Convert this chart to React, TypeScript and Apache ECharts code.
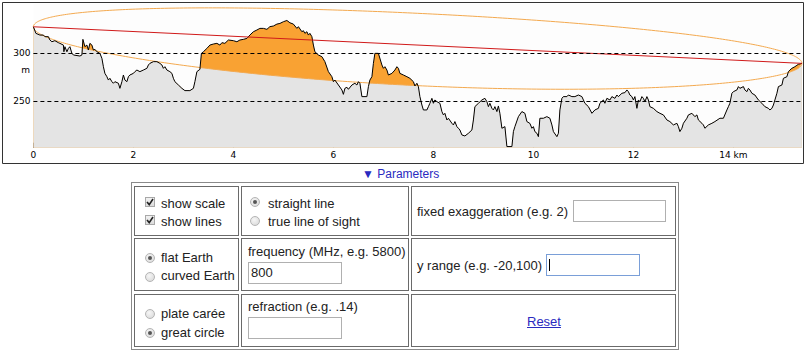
import React, { useEffect, useRef } from 'react';
import * as echarts from 'echarts';

// Terrain profile: [distance km, elevation m]
const PROFILE: [number, number][] = [
  [0, 327.9], [0.05, 321], [0.13, 319.2], [0.2, 319.2], [0.23, 317.5], [0.3, 317.5], [0.33, 314], [0.37, 312.2],
  [0.43, 313.3], [0.5, 311.2], [0.53, 310.5], [0.6, 308.7], [0.61, 301.7], [0.63, 307], [0.67, 301.7], [0.7, 305.2],
  [0.73, 307], [0.77, 300], [0.8, 298.3], [0.93, 297.2], [0.97, 298.3], [0.99, 314.7], [1.03, 307], [1.07, 308.7],
  [1.1, 303.5], [1.13, 310.5], [1.17, 308.7], [1.2, 303.5], [1.23, 304.2], [1.27, 301.7], [1.33, 300], [1.37, 294.8],
  [1.4, 286], [1.43, 279], [1.47, 275.5], [1.5, 272], [1.53, 273.8], [1.57, 270.3], [1.6, 268.6], [1.63, 270.3],
  [1.7, 268.6], [1.73, 263.3], [1.77, 270.3], [1.8, 277.3], [1.83, 272], [1.87, 270.3], [1.9, 275.5], [1.93, 277.3],
  [2.0, 279], [2.03, 280.8], [2.07, 282.5], [2.13, 280.8], [2.2, 282.5], [2.27, 284.3], [2.3, 287.8], [2.33, 289.5],
  [2.4, 291.3], [2.47, 291.3], [2.53, 289.5], [2.57, 287.8], [2.6, 284.3], [2.63, 286], [2.67, 282.5], [2.73, 280.8],
  [2.77, 279], [2.8, 273.8], [2.83, 270.3], [2.9, 266.8], [2.97, 263.3], [3.03, 260.9], [3.13, 260.9], [3.2, 263.3],
  [3.23, 270.3], [3.27, 280.8], [3.33, 283.2], [3.36, 300], [3.4, 301.7], [3.47, 305.2], [3.53, 308.7], [3.6, 309.8],
  [3.67, 310.5], [3.73, 308.7], [3.77, 311.2], [3.83, 310.5], [3.9, 314], [4.0, 313.3], [4.07, 312.2], [4.13, 314],
  [4.2, 314.7], [4.27, 315.7], [4.33, 319.2], [4.4, 322.7], [4.47, 324.5], [4.53, 326.2], [4.6, 326.2], [4.67, 325.2],
  [4.73, 328], [4.8, 328.7], [4.87, 330.7], [4.93, 331.4], [5.0, 333.2], [5.07, 334.5], [5.13, 332.1], [5.2, 330.7],
  [5.27, 326.2], [5.3, 328], [5.37, 322.7], [5.4, 323.8], [5.43, 321], [5.47, 322.7], [5.5, 319.2], [5.53, 321],
  [5.57, 317.5], [5.6, 308.7], [5.63, 301.7], [5.7, 298.3], [5.77, 296.5], [5.83, 291.3], [5.9, 280.8], [5.97, 275.5],
  [6.0, 270.3], [6.03, 272], [6.1, 266.8], [6.17, 261.6], [6.2, 257], [6.23, 263.3], [6.27, 264.4], [6.3, 262.3],
  [6.37, 266.8], [6.43, 268.6], [6.47, 266.8], [6.5, 270.3], [6.53, 268.6], [6.57, 254.6], [6.67, 254.6], [6.7, 265.1],
  [6.73, 272], [6.77, 275.5], [6.8, 289.5], [6.83, 300], [6.9, 300], [6.97, 287.8], [7.0, 284.3], [7.03, 286],
  [7.07, 282.5], [7.1, 277.3], [7.17, 279], [7.23, 282.5], [7.27, 286], [7.3, 284.3], [7.33, 279], [7.4, 277.3],
  [7.47, 275.5], [7.53, 273.8], [7.6, 270.3], [7.63, 265.8], [7.67, 268.6], [7.7, 265.1], [7.73, 254.6], [7.77, 245.8],
  [7.8, 240.6], [7.87, 240.6], [7.9, 244.1], [7.93, 247.6], [7.97, 252.8], [8.0, 247.6], [8.03, 251.1], [8.07, 249.3],
  [8.13, 247.6], [8.17, 238.9], [8.2, 235.4], [8.23, 237.1], [8.27, 230.1], [8.3, 231.9], [8.37, 226.6], [8.4, 224.9],
  [8.43, 228.4], [8.47, 223.1], [8.5, 221.4], [8.53, 219.6], [8.57, 214.4], [8.63, 213.3], [8.7, 216.1], [8.77, 219.6],
  [8.8, 230.1], [8.83, 244.1], [8.9, 247.6], [8.97, 251.1], [9.03, 252.8], [9.07, 249.3], [9.1, 244.1], [9.13, 247.6],
  [9.17, 242.3], [9.2, 240.6], [9.23, 244.1], [9.27, 238.9], [9.3, 244.8], [9.33, 237.1], [9.37, 221.4], [9.43, 223.1],
  [9.47, 202.2], [9.57, 202.2], [9.6, 217.9], [9.63, 223.1], [9.7, 233.6], [9.77, 238.9], [9.83, 237.1], [9.87, 228.4],
  [9.93, 226.5], [9.97, 221.4], [10.0, 223.1], [10.03, 217.9], [10.07, 216.1], [10.1, 212.6], [10.13, 231.9], [10.2, 231.9],
  [10.27, 233.6], [10.33, 231.9], [10.37, 224.9], [10.4, 217.9], [10.47, 212.6], [10.5, 216.1], [10.53, 240.6], [10.57, 252.8],
  [10.6, 254.6], [10.67, 254.6], [10.7, 256.3], [10.77, 254.6], [10.83, 254.6], [10.9, 256.3], [10.97, 254.6], [11.0, 251.1],
  [11.03, 247.6], [11.1, 244.1], [11.17, 237.1], [11.23, 240.6], [11.3, 242.3], [11.33, 247.6], [11.4, 251.1], [11.43, 247.6],
  [11.47, 252.8], [11.53, 251.1], [11.57, 254.6], [11.63, 252.8], [11.67, 256.3], [11.7, 254.6], [11.77, 258.1], [11.83, 258.8],
  [11.87, 261.6], [11.9, 259.8], [11.93, 256.3], [11.97, 254.6], [12.0, 251.1], [12.03, 254.6], [12.07, 242.3], [12.1, 251.1],
  [12.13, 249.3], [12.17, 254.6], [12.2, 252.8], [12.23, 249.3], [12.27, 254.6], [12.3, 251.1], [12.33, 244.1], [12.4, 242.3],
  [12.47, 238.9], [12.53, 237.1], [12.6, 235.4], [12.67, 230.1], [12.73, 228.4], [12.8, 224.9], [12.87, 226.6], [12.9, 223.1],
  [12.93, 217.9], [12.97, 221.4], [13.0, 226.6], [13.07, 231.9], [13.1, 235.4], [13.17, 237.1], [13.23, 233.6], [13.27, 235.4],
  [13.3, 230.1], [13.37, 226.6], [13.4, 224.9], [13.43, 221.4], [13.5, 224.9], [13.57, 226.6], [13.63, 228.4], [13.73, 231.9],
  [13.8, 231.9], [13.87, 240.6], [13.9, 244.1], [13.93, 247.6], [13.97, 258.1], [14.0, 259.8], [14.07, 261.6], [14.1, 265.1],
  [14.13, 263.3], [14.2, 265.1], [14.23, 261.6], [14.27, 259.8], [14.3, 263.3], [14.33, 261.6], [14.37, 258.1], [14.43, 256.3],
  [14.5, 251.1], [14.57, 247.6], [14.63, 244.1], [14.7, 242.3], [14.73, 240.6], [14.77, 242.3], [14.8, 245.8], [14.83, 251.1],
  [14.87, 258.1], [14.9, 265.1], [14.97, 266.8], [15.0, 273.8], [15.07, 275.5], [15.1, 280.8], [15.13, 282.5], [15.17, 284.3],
  [15.23, 286], [15.27, 287.5], [15.3, 288.5], [15.37, 289.5],
];

const FREQ_MHZ = 800; // from the parameters form
const X_TICKS = [0, 2, 4, 6, 8, 10, 12, 14];
const Y_LINES = [300, 250];
const Y_UNIT = 'm';
const X_UNIT = 'km';

const FONT = '"DejaVu Sans", Verdana, sans-serif';

// First Fresnel zone around the line of sight (derived geometry, not data)
function fresnelAt(d: number, D: number, h0: number, h1: number) {
  const line = h0 + ((h1 - h0) * d) / D;
  const dd = Math.max(0, d * (D - d));
  const bulge = dd / 12.74;
  const r = 17.32 * Math.sqrt(dd / ((FREQ_MHZ / 1000) * D));
  return { lower: line - bulge - r, upper: line - bulge + r };
}

function buildOption() {
  const D = PROFILE[PROFILE.length - 1][0];
  const h0 = PROFILE[0][1];
  const h1 = PROFILE[PROFILE.length - 1][1];

  // terrain clipped at the lower Fresnel boundary: what stays grey
  const clipped = PROFILE.map(([d, m]) => [d, Math.min(m, fresnelAt(d, D, h0, h1).lower)]);

  const N = 240;
  const upper: number[][] = [];
  const lower: number[][] = [];
  for (let i = 0; i <= N; i++) {
    const d = (D * (1 - Math.cos((Math.PI * i) / N))) / 2;
    const f = fresnelAt(d, D, h0, h1);
    upper.push([d, f.upper]);
    lower.push([d, f.lower]);
  }

  const ORANGE_LINE = '#f3a94f';
  return {
    animation: false,
    backgroundColor: 'transparent',
    grid: { left: 33.4, top: 3.8, width: 768.5, height: 143.9, show: true, backgroundColor: '#fdfdfd', borderWidth: 0 },
    xAxis: {
      type: 'value',
      min: 0,
      max: D,
      axisLine: { show: false },
      splitLine: { show: false },
      axisTick: { show: true, inside: true, length: 5, customValues: X_TICKS, lineStyle: { color: '#000', width: 1 } },
      axisLabel: {
        customValues: X_TICKS,
        margin: 3,
        fontSize: 9,
        fontFamily: FONT,
        color: '#000',
        formatter: (v: number) => (v === 14 ? `${v} ${X_UNIT}` : `${v}`),
      },
    },
    yAxis: {
      type: 'value',
      min: 201,
      max: 352,
      show: false,
      splitLine: { show: false },
    },
    series: [
      {
        name: 'terrainOrange',
        type: 'line',
        data: PROFILE,
        symbol: 'none',
        silent: true,
        lineStyle: { opacity: 0 },
        areaStyle: { color: '#f9a233', opacity: 1 },
      },
      {
        name: 'terrainGrey',
        type: 'line',
        data: clipped,
        symbol: 'none',
        silent: true,
        lineStyle: { opacity: 0 },
        areaStyle: { color: '#e4e4e4', opacity: 1 },
      },
      {
        name: 'fresnelUpper',
        type: 'line',
        data: upper,
        symbol: 'none',
        silent: true,
        lineStyle: { color: ORANGE_LINE, width: 1 },
      },
      {
        name: 'fresnelLower',
        type: 'line',
        data: lower,
        symbol: 'none',
        silent: true,
        lineStyle: { color: ORANGE_LINE, width: 1 },
      },
      {
        name: 'terrain',
        type: 'line',
        data: PROFILE,
        symbol: 'none',
        silent: true,
        lineStyle: { color: '#000', width: 1 },
        markLine: {
          silent: true,
          symbol: ['none', 'none'],
          lineStyle: { color: '#000', width: 1, type: [4, 3] },
          label: {
            position: 'start',
            distance: 3,
            formatter: '{c}',
            fontSize: 9,
            fontFamily: FONT,
            color: '#000',
          },
          data: Y_LINES.map((v) => ({ yAxis: v })),
        },
      },
      {
        name: 'lineOfSight',
        type: 'line',
        data: [PROFILE[0], PROFILE[PROFILE.length - 1]],
        symbol: 'none',
        silent: true,
        lineStyle: { color: '#d01a1a', width: 1 },
      },
    ],
    graphic: [
      {
        type: 'rect',
        shape: { x: 2.5, y: 2.5, width: 801, height: 161 },
        style: { fill: 'none', stroke: '#333', lineWidth: 1 },
        silent: true,
      },
      {
        type: 'text',
        x: 30,
        y: 70,
        style: { text: Y_UNIT, fontSize: 9, fontFamily: FONT, fill: '#000', align: 'right', verticalAlign: 'middle' },
        silent: true,
      },
    ],
  };
}

const FORM_FONT = '"Liberation Sans", Arial, sans-serif';
const LINK = '#2a2ac0';

const abs = (left: number, top: number, extra: React.CSSProperties = {}): React.CSSProperties => ({
  position: 'absolute',
  left,
  top,
  ...extra,
});

function Cell({ l, t, w, h }: { l: number; t: number; w: number; h: number }) {
  return <div style={abs(l, t, { width: w, height: h, boxSizing: 'border-box', border: '1px solid #6a6a6a' })} />;
}

function Label({ x, cy, children, style }: { x: number; cy: number; children: React.ReactNode; style?: React.CSSProperties }) {
  return (
    <div style={abs(x, cy - 8, { lineHeight: '16px', whiteSpace: 'nowrap', ...style })}>{children}</div>
  );
}

function CheckBox({ x, y }: { x: number; y: number }) {
  return (
    <div
      style={abs(x, y, {
        width: 10,
        height: 10,
        boxSizing: 'border-box',
        border: '1px solid #a8a8a8',
        background: 'linear-gradient(#f2f2f2, #dcdcdc)',
      })}
    >
      <svg width="8" height="8" style={{ position: 'absolute', left: 0, top: 0 }}>
        <polyline points="1,4 3.2,6.6 7,1" fill="none" stroke="#222" strokeWidth="1.6" />
      </svg>
    </div>
  );
}

function Radio({ x, y, checked }: { x: number; y: number; checked?: boolean }) {
  return (
    <div
      style={abs(x, y, {
        width: 10,
        height: 10,
        boxSizing: 'border-box',
        borderRadius: '50%',
        border: '1px solid #b4b4b4',
        background: 'radial-gradient(circle at 40% 35%, #f6f6f6, #d6d6d6)',
      })}
    >
      {checked ? (
        <div style={abs(2, 2, { width: 4, height: 4, borderRadius: '50%', background: '#555' })} />
      ) : null}
    </div>
  );
}

function TextBox({ x, y, w, h, value, focused }: { x: number; y: number; w: number; h: number; value?: string; focused?: boolean }) {
  return (
    <div
      style={abs(x, y, {
        width: w,
        height: h,
        boxSizing: 'border-box',
        border: focused ? '1px solid #7a9fd8' : '1px solid #b0b0b0',
        background: '#fff',
        lineHeight: `${h - 2}px`,
        paddingLeft: 2,
        fontSize: 13,
      })}
    >
      {value}
      {focused ? <div style={abs(2, 4, { width: 1, height: h - 10, background: '#000' })} /> : null}
    </div>
  );
}

export default function App() {
  const ref = useRef<HTMLDivElement>(null);
  useEffect(() => {
    document.body.style.margin = '0';
    if (!ref.current) return;
    const chart = echarts.init(ref.current, undefined, { renderer: 'svg' });
    chart.setOption(buildOption() as any);
    return () => chart.dispose();
  }, []);

  return (
    <div
      style={{
        position: 'relative',
        width: 805,
        height: 353,
        background: '#fff',
        overflow: 'hidden',
        fontFamily: FORM_FONT,
        fontSize: 13,
        color: '#222',
      }}
    >
      <div ref={ref} style={abs(0, 0, { width: 805, height: 166 })} />

      <div style={abs(362, 166, { fontSize: 12, lineHeight: '16px', color: LINK, whiteSpace: 'nowrap' })}>
        <span style={{ fontSize: 12 }}>▼</span> Parameters
      </div>

      <div style={abs(131, 182, { width: 548, height: 168, boxSizing: 'border-box', border: '1px solid #8a8a8a' })} />
      <Cell l={134} t={186} w={105} h={50} />
      <Cell l={241} t={186} w={168} h={50} />
      <Cell l={411} t={186} w={265} h={50} />
      <Cell l={134} t={238} w={105} h={53} />
      <Cell l={241} t={238} w={168} h={53} />
      <Cell l={411} t={238} w={265} h={53} />
      <Cell l={134} t={294} w={105} h={53} />
      <Cell l={241} t={294} w={168} h={53} />
      <Cell l={411} t={294} w={265} h={53} />

      <CheckBox x={145} y={197} />
      <Label x={161} cy={203.5}>show scale</Label>
      <CheckBox x={145} y={215} />
      <Label x={161} cy={222}>show lines</Label>

      <Radio x={250} y={197} checked />
      <Label x={268} cy={203.5}>straight line</Label>
      <Radio x={250} y={216} />
      <Label x={268} cy={222}>true line of sight</Label>

      <Label x={417} cy={211.5}>fixed exaggeration (e.g. 2)</Label>
      <TextBox x={573} y={200} w={93} h={22} />

      <Radio x={145} y={253} checked />
      <Label x={161} cy={257.5}>flat Earth</Label>
      <Radio x={145} y={272} />
      <Label x={161} cy={276}>curved Earth</Label>

      <Label x={248} cy={252}>frequency (MHz, e.g. 5800)</Label>
      <TextBox x={248} y={262} w={94} h={22} value="800" />

      <Label x={417} cy={266}>y range (e.g. -20,100)</Label>
      <TextBox x={546} y={254} w={94} h={22} focused />

      <Radio x={145} y={309} />
      <Label x={161} cy={313.5}>plate carée</Label>
      <Radio x={145} y={328} checked />
      <Label x={161} cy={332.5}>great circle</Label>

      <Label x={248} cy={307}>refraction (e.g. .14)</Label>
      <TextBox x={248} y={317} w={94} h={22} />

      <Label x={527} cy={321.5} style={{ color: LINK, textDecoration: 'underline' }}>Reset</Label>
    </div>
  );
}
